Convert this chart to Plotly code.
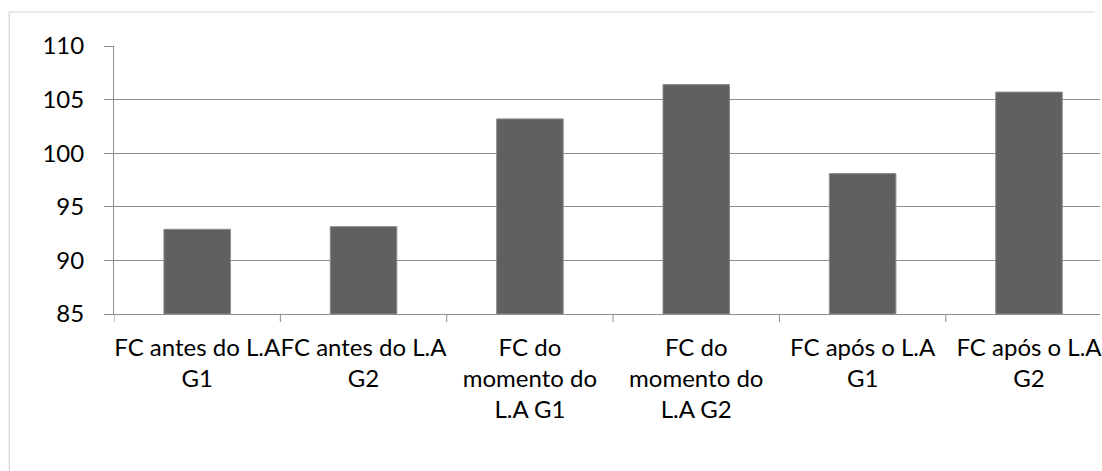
import plotly.graph_objects as go

# Heart-rate (FC) averages by moment and group
categories = [
    "FC antes do L.A<br>G1",
    "FC antes do L.A<br>G2",
    "FC do<br>momento do<br>L.A G1",
    "FC do<br>momento do<br>L.A G2",
    "FC após o L.A<br>G1",
    "FC após o L.A<br>G2",
]
values = [92.9, 93.15, 103.2, 106.4, 98.1, 105.7]
y_ticks = [85, 90, 95, 100, 105, 110]

W, H = 1102, 471
ML, MR, MT, MB = 114, 0, 46, 157
plot_w = W - ML - MR
plot_h = H - MT - MB
cat_px = 166.7  # width of one category slot

FONT = "Lato, Open Sans, sans-serif"
GRID = "#8e8e8e"

fig = go.Figure(
    go.Bar(
        x=list(range(len(categories))),
        y=[v - 85 for v in values],
        base=85,
        width=0.4,
        marker=dict(color="#606060", line=dict(color="#8c8c8c", width=1)),
    )
)

fig.update_layout(
    width=W,
    height=H,
    margin=dict(l=ML, r=MR, t=MT, b=MB),
    paper_bgcolor="white",
    plot_bgcolor="white",
    showlegend=False,
    font=dict(family=FONT, size=24, color="#000000"),
)

fig.update_xaxes(
    type="linear",
    range=[-0.5, -0.5 + plot_w / cat_px],
    tickmode="array",
    tickvals=list(range(len(categories))),
    ticktext=categories,
    tickangle=0,
    ticklabeloverflow="allow",
    showgrid=False,
    zeroline=False,
    showline=True,
    linecolor=GRID,
    linewidth=1,
    ticks="",
    ticklabelstandoff=12,
)

# tick marks on the category boundaries
for b in range(len(categories)):
    fig.add_shape(
        type="line", xref="x", yref="paper",
        x0=b - 0.5, x1=b - 0.5, y0=0, y1=-8 / plot_h,
        line=dict(color=GRID, width=1),
    )

fig.update_yaxes(
    range=[85, 110],
    tickmode="array",
    tickvals=y_ticks,
    showgrid=True,
    gridcolor=GRID,
    gridwidth=1,
    zeroline=False,
    showline=True,
    linecolor=GRID,
    linewidth=1,
    ticks="outside",
    ticklen=9,
    tickcolor=GRID,
    ticklabelstandoff=15,
)

# outer chart frame: only its left and top edges fall inside the view
fx = (9 - ML) / plot_w
fy = (H - MB - 12) / plot_h
fbottom = -MB / plot_h
frame = dict(color="#d6d6d6", width=1.2)
fig.add_shape(type="line", xref="paper", yref="paper",
              x0=fx, x1=0.995, y0=fy, y1=fy, line=frame, layer="below")
fig.add_shape(type="line", xref="paper", yref="paper",
              x0=fx, x1=fx, y0=fy, y1=fbottom, line=frame, layer="below")

fig.write_html("out.html", config={"displayModeBar": False})
